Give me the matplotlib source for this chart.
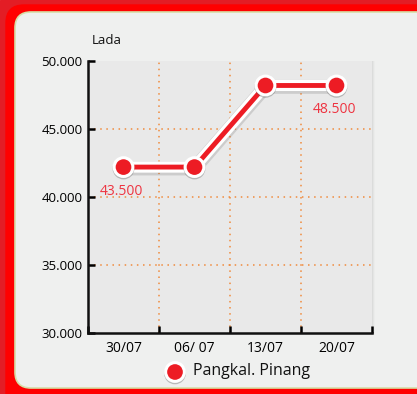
import matplotlib
matplotlib.use("Agg")
import matplotlib.pyplot as plt
import matplotlib.patheffects as pe
from matplotlib.patches import FancyBboxPatch, Rectangle

# --- DATA ---------------------------------------------------------------------
dates       = ["30/07", "06/ 07", "13/07", "20/07"]
prices      = [42200, 42200, 48200, 48200]
value_texts = ["43.500", "", "", "48.500"]
y_ticks     = [30000, 35000, 40000, 45000, 50000]
y_labels    = ["30.000", "35.000", "40.000", "45.000", "50.000"]
series_name = "Pangkal. Pinang"
y_title     = "Lada"

RED   = "#ed1c24"
GRID  = "#f08a3c"

plt.rcParams["font.family"] = ["Open Sans", "DejaVu Sans"]

fig = plt.figure(figsize=(4.17, 3.94), dpi=100)

# --- BACKGROUND FRAME ---------------------------------------------------------
bg = fig.add_axes([0, 0, 1, 1])
bg.set_xlim(0, 417)
bg.set_ylim(394, 0)
bg.axis("off")
bg.add_patch(Rectangle((0, 0), 417, 394, color="#e31d25"))
bg.add_patch(FancyBboxPatch((6, 5), 440, 420, boxstyle="round,pad=0,rounding_size=18",
                            color="#ff0000"))
bg.add_patch(FancyBboxPatch((15, 12), 430, 376, boxstyle="round,pad=0,rounding_size=16",
                            facecolor="#eff0ef", edgecolor="#d6dfa8", linewidth=1.2))
# soft shadow right of the plot area
for i, a in enumerate([0.10, 0.06, 0.03]):
    bg.add_patch(Rectangle((88, 61), 284 + i + 1, 272 + i, color="#888888",
                           alpha=a, linewidth=0))

# --- MAIN CHART ---------------------------------------------------------------
ax = fig.add_axes([88 / 417, 61 / 394, 284 / 417, 272 / 394])
ax.set_facecolor("#e9e9e9")
ax.set_ylim(30000, 50000)
ax.set_xlim(-0.5, len(dates) - 0.5)

x = list(range(len(dates)))
ax.plot(x, prices, color=RED, linewidth=3.5, zorder=3,
        path_effects=[pe.SimpleLineShadow(offset=(0, -1), shadow_color="#777777", alpha=0.25,
                                          linewidth=10),
                      pe.Stroke(linewidth=8, foreground="white"), pe.Normal()])
ax.plot(x, prices, linestyle="none", marker="o", markersize=13.5, markerfacecolor=RED,
        markeredgecolor="white", markeredgewidth=2.2, zorder=4,
        path_effects=[pe.SimpleLineShadow(offset=(0, -1), shadow_color="#555555", alpha=0.35),
                      pe.Normal()])

for xi, yi, t in zip(x, prices, value_texts):
    if t:
        ax.annotate(t, (xi, yi), xytext=(-2, -24), textcoords="offset pixels",
                    ha="center", va="center", color="#ee3340", fontsize=10)

# grid lines
for b in [0.5, 1.5, 2.5]:
    ax.axvline(b, color=GRID, linestyle=(0, (1, 3)), linewidth=1.1, zorder=1)
for yv in [35000, 40000, 45000]:
    ax.axhline(yv, color=GRID, linestyle=(0, (1, 3)), linewidth=1.1, zorder=1)

ax.set_yticks(y_ticks)
ax.set_yticklabels(y_labels, fontsize=9.5)
ax.set_xticks(x)
ax.set_xticklabels(dates, fontsize=10)
ax.set_xticks([-0.5, 0.5, 1.5, 2.5, 3.5], minor=True)
ax.tick_params(axis="x", which="major", length=0, pad=6)
ax.tick_params(axis="x", which="minor", direction="in", length=5, width=1.8)
ax.tick_params(axis="y", direction="in", length=5, width=1.8, pad=4)

for s in ["top", "right"]:
    ax.spines[s].set_visible(False)
for s in ["left", "bottom"]:
    ax.spines[s].set_linewidth(1.8)
    ax.spines[s].set_color("#111111")

fig.text(92 / 417, 1 - 40 / 394, y_title, fontsize=9.5, ha="left", va="center", color="#111111")

# legend
bg.plot([175], [372], marker="o", markersize=13.5, markerfacecolor=RED,
        markeredgecolor="white", markeredgewidth=2.2,
        path_effects=[pe.SimpleLineShadow(offset=(0, -1), shadow_color="#555555", alpha=0.35),
                      pe.Normal()])
bg.text(193, 371, series_name, fontsize=11.5, ha="left", va="center", color="#111111")

fig.savefig("out.png", dpi=100)
